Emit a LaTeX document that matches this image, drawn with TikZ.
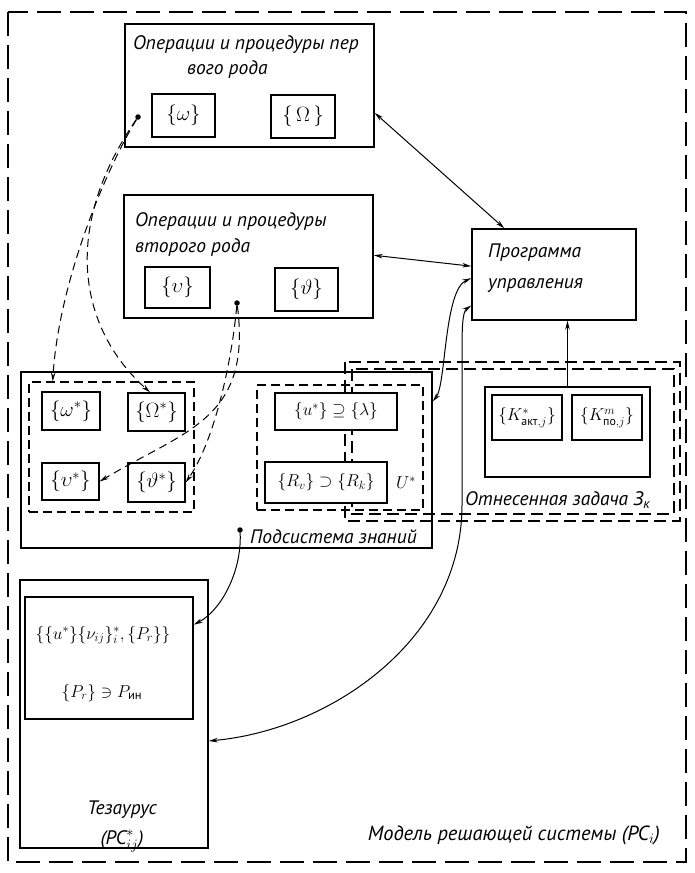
\documentclass[tikz,border=0pt]{standalone}
\usepackage{amsmath}
\usepackage{fontspec}
\setmainfont{PT Sans}
\usetikzlibrary{arrows.meta,calc}
\begin{document}
\begin{tikzpicture}[x=1pt,y=-1pt,
  box/.style={draw,line width=1.4pt,fill=white,inner sep=0pt},
  dbox/.style={draw,line width=1.1pt,dash pattern=on 9pt off 5pt,inner sep=0pt},
  ddash/.style={draw,line width=1.1pt,dash pattern=on 12pt off 6pt},
  outer/.style={draw,line width=1.6pt,dash pattern=on 24pt off 9pt},
  lbl/.style={font=\fontsize{19.5}{22}\selectfont\itshape,inner sep=0pt},
  biglbl/.style={font=\fontsize{20.5}{23}\selectfont\itshape,inner sep=0pt},
  setlbl/.style={font=\fontsize{21}{24}\selectfont,inner sep=0pt},
  midlbl/.style={font=\fontsize{18}{21}\selectfont,inner sep=0pt},
  kl/.style={font=\fontsize{17}{20}\selectfont,inner sep=0pt},
  dotn/.style={circle,fill=black,inner sep=0pt,minimum size=5.5pt},
  tip/.tip={Stealth[length=9pt,width=4.5pt]},
  conn/.style={line width=1pt,tip-tip},
  arr/.style={line width=1pt,-tip},
  darr/.style={line width=1pt,dash pattern=on 8pt off 5pt,-tip}
]
\useasboundingbox (0,0) rectangle (695,873);
\draw[outer] (8,12) rectangle (686,862);

% first-kind operations
\node[box,minimum width=249pt,minimum height=123pt] (b1) at (249.5,85.5) {};
\node[lbl,anchor=west] (b1t1) at (133,45) {Операции и процедуры пер};
\node[lbl,anchor=west] (b1t2) at (187,70) {вого рода};
\node[box,minimum width=63pt,minimum height=43pt,setlbl] (w1) at (183.5,115.5) {$\{\omega\}$};
\node[box,minimum width=64pt,minimum height=43pt,setlbl] (W1) at (303,116.5) {$\{\,\Omega\,\}$};
\node[dotn] (dot1) at (138,117) {};

% second-kind operations
\node[box,minimum width=249pt,minimum height=123pt] (b2) at (248.5,256.5) {};
\node[lbl,anchor=west] (b2t1) at (135,222) {Операции и процедуры};
\node[lbl,anchor=west] (b2t2) at (135,248) {второго рода};
\node[box,minimum width=65pt,minimum height=41pt,setlbl] (v2) at (177.5,287.5) {$\{\upsilon\}$};
\node[box,minimum width=63pt,minimum height=43pt,setlbl] (t2) at (306.5,289.5) {$\{\vartheta\}$};
\node[dotn] (dot2) at (237,303) {};

% control program
\node[box,minimum width=164pt,minimum height=91pt] (prog) at (554,274.5) {};
\node[lbl,anchor=west] (pt1) at (488,253) {Программа};
\node[lbl,anchor=west] (pt2) at (488,285) {управления};

% related task (double dashed)
\draw[ddash] (345,362) rectangle (680,521);
\draw[ddash] (352,369) rectangle (674,514);
\node[box,minimum width=165pt,minimum height=90pt] (zad) at (567.5,432) {};
\node[box,minimum width=70pt,minimum height=45pt,kl] (ka) at (527,417.5) {$\{K^*_{\text{акт},j}\}$};
\node[box,minimum width=70pt,minimum height=45pt,kl] (km) at (607,417.5) {$\{K^m_{\text{по},j}\}$};
\node[lbl,anchor=west] (zt) at (465,500) {Отнесенная задача З\textsubscript{к}};

% knowledge subsystem
\node[draw,line width=1.4pt,inner sep=0pt,minimum width=411pt,minimum height=176pt] (know) at (226.5,460) {};
\node[dbox,minimum width=165pt,minimum height=130pt] (kd) at (111.5,447) {};
\node[box,minimum width=58pt,minimum height=38pt,setlbl] (ws) at (71,411) {$\{\omega^*\}$};
\node[box,minimum width=57pt,minimum height=38pt,setlbl] (Ws) at (156.5,412) {$\{\Omega^*\}$};
\node[box,minimum width=57pt,minimum height=37pt,setlbl] (vs) at (70.5,481.5) {$\{\upsilon^*\}$};
\node[box,minimum width=57pt,minimum height=39pt,setlbl] (ts) at (156.5,482.5) {$\{\vartheta^*\}$};
\node[dbox,minimum width=166pt,minimum height=125pt] (Ud) at (340,447.5) {};
\node[box,minimum width=122pt,minimum height=37pt,midlbl] (ul) at (336,411.5) {$\{u^*\}\supseteq\{\lambda\}$};
\node[box,minimum width=122pt,minimum height=41pt,midlbl] (Rb) at (326,482.5) {$\{R_v\}\supset\{R_k\}$};
\node[midlbl] (Us) at (406,483) {$U^*$};
\node[lbl,anchor=west] (kt) at (250,537) {Подсистема знаний};
\node[dotn] (dot3) at (240,530) {};

% thesaurus
\node[draw,line width=1.4pt,inner sep=0pt,minimum width=188pt,minimum height=268pt] (thes) at (114,714) {};
\node[box,minimum width=168pt,minimum height=122pt] (thin) at (109,658) {};
\node[midlbl] (th1) at (103,635) {$\{\{u^*\}\{\nu_{ij}\}_i^{*},\{P_r\}\}$};
\node[midlbl] (th2) at (102,693) {$\{P_r\}\ni P_{\text{ин}}$};
\node[lbl] (tt1) at (122,810) {Тезаурус};
\node[lbl] (tt2) at (122,841) {(РС$^*_{ij}$)};

\node[biglbl,anchor=east] (mt) at (660,835) {Модель решающей системы (РС$_i$)};

% connectors
\draw[conn] ($(b1.north east)!0.72!(b1.south east)$) -- ($(prog.north west)!0.2!(prog.north east)$);
\draw[conn] ($(b2.north east)!0.49!(b2.south east)$) -- ($(prog.north west)!0.41!(prog.south west)$);
\draw[arr] (zad.north) -- (zad.north |- prog.south);
\draw[conn] ($(know.north east)!0.17!(know.south east)$) .. controls (446,385) and (444,290) .. ($(prog.north west)!0.54!(prog.south west)$);
\draw[conn] ($(prog.north west)!0.835!(prog.south west)$) .. controls (462,312) and (462,330) .. (462,360) -- (462,505) .. controls (462,640) and (330,730) .. ($(thes.north east)!0.6!(thes.south east)$);
\draw[arr] (dot3) .. controls (242,570) and (222,610) .. ($(thin.north east)!0.23!(thin.south east)$);

\draw[darr] (dot1) .. controls (100,180) and (58,290) .. ($(kd.north west)!0.146!(kd.north east)$);
\draw[darr] (dot1) .. controls (60,230) and (80,330) .. ($(Ws.north west)!0.39!(Ws.north east)$);
\draw[darr] (dot2) .. controls (252,420) and (185,430) .. (vs.east);
\draw[darr] (dot2) .. controls (232,360) and (215,440) .. (ts.east);
\end{tikzpicture}
\end{document}
